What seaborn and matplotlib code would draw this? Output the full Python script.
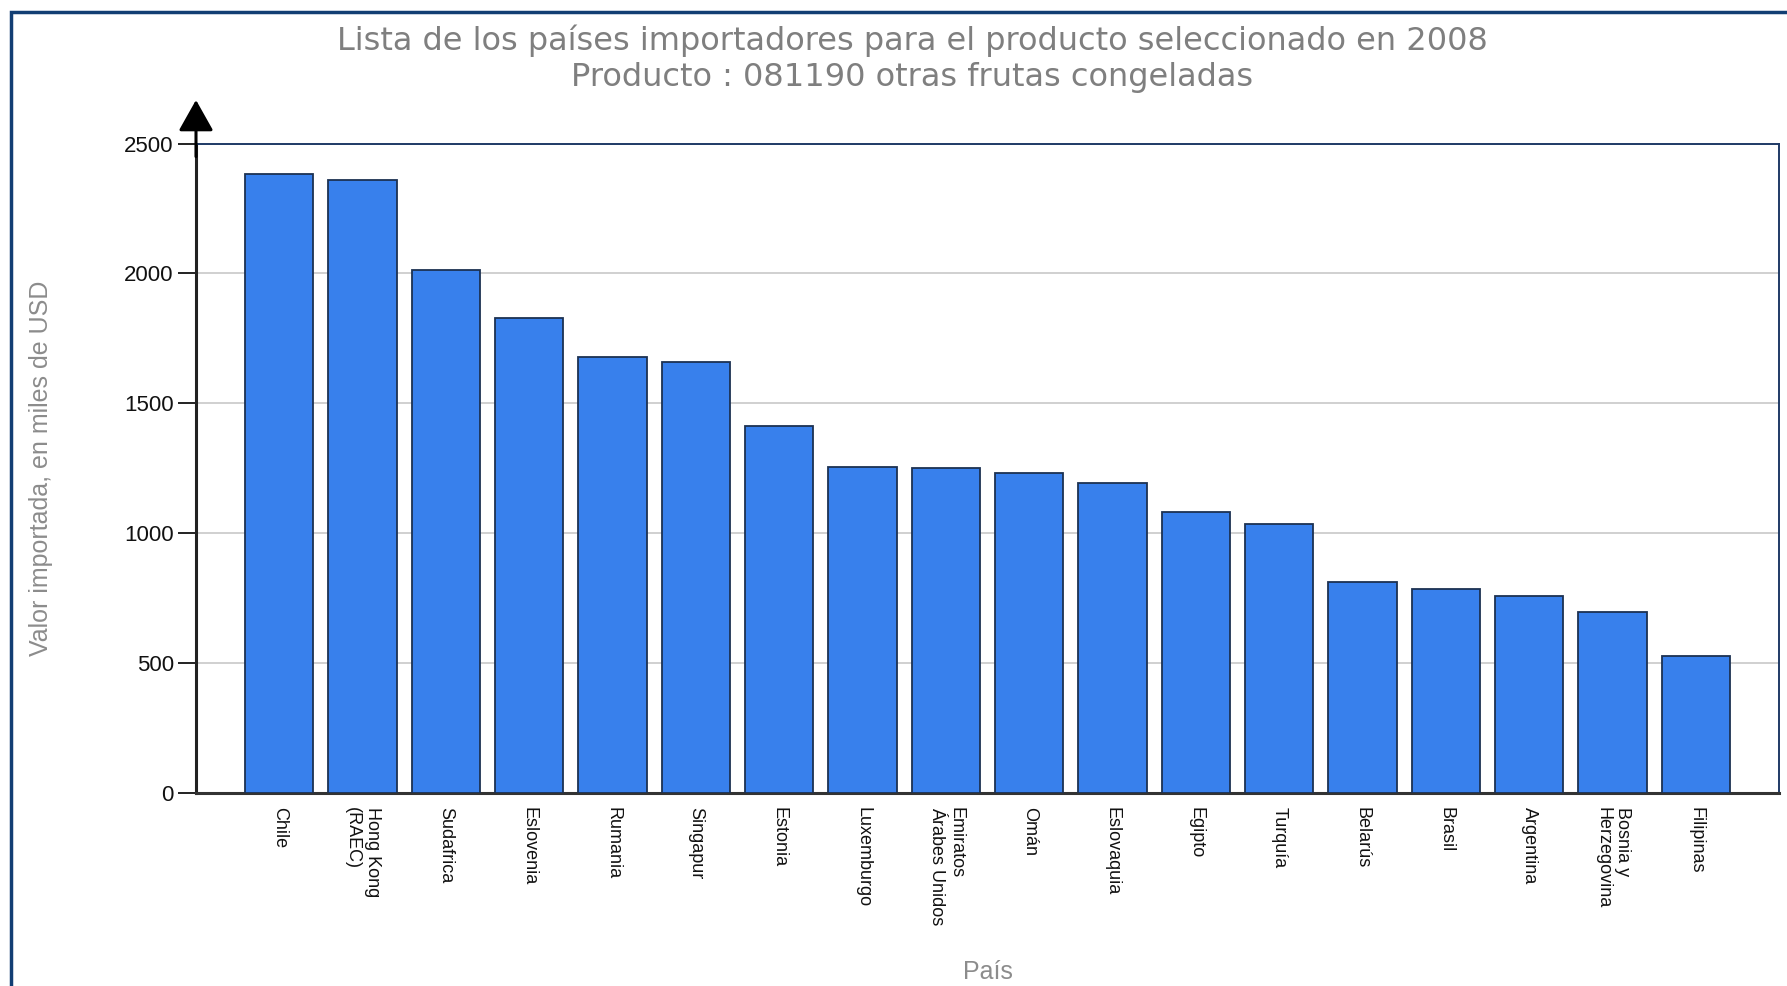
import matplotlib
matplotlib.use("Agg")
import matplotlib.pyplot as plt
import seaborn as sns
import pandas as pd
from matplotlib.patches import Rectangle

countries = ["Chile", "Hong Kong\n(RAEC)", "Sudafrica", "Eslovenia", "Rumania", "Singapur",
             "Estonia", "Luxemburgo", "Emiratos\nÁrabes Unidos", "Omán", "Eslovaquia", "Egipto",
             "Turquía", "Belarús", "Brasil", "Argentina", "Bosnia y\nHerzegovina", "Filipinas"]
values = [2384, 2359, 2014, 1830, 1677, 1659, 1414, 1255, 1250, 1233, 1194, 1080,
          1036, 811, 785, 760, 698, 527]
yticks = [0, 500, 1000, 1500, 2000, 2500]

title = "Lista de los países importadores para el producto seleccionado en 2008\nProducto : 081190 otras frutas congeladas"
ylabel = "Valor importada, en miles de USD"
xlabel = "País"

sns.set_theme(style="white")
plt.rcParams['font.family'] = ['Liberation Sans', 'DejaVu Sans']

W, H = 1787, 986
fig = plt.figure(figsize=(W / 100, H / 100), dpi=100)
ax = fig.add_axes([196 / W, 1 - 793 / H, (1779 - 196) / W, (793 - 143.6) / H])

df = pd.DataFrame({"country": countries, "value": values})
sns.barplot(data=df, x="country", y="value", ax=ax, color="#3880EC", saturation=1,
            width=0.82, edgecolor="#1C3152", linewidth=1.3, zorder=3)

ax.set_ylim(0, 2500)
ax.set_xlim(-1.0, len(countries))
ax.set_yticks(yticks)
ax.set_yticklabels([str(t) for t in yticks], fontsize=16, color="#111111")
ax.yaxis.grid(True, color="#C8C8C8", linewidth=1.2, zorder=0)
ax.xaxis.grid(False)
ax.tick_params(axis="y", left=True, length=13, width=1.3, color="#111111", direction="out", pad=3)
ax.tick_params(axis="x", bottom=False, pad=4)
plt.setp(ax.get_xticklabels(), rotation=270, fontsize=13, color="#111111",
         ha="center", va="top", multialignment="left", rotation_mode="default")

ax.spines["left"].set_color("#222222")
ax.spines["left"].set_linewidth(2.2)
ax.spines["bottom"].set_color("#333333")
ax.spines["bottom"].set_linewidth(2.2)
ax.spines["top"].set_color("#1F3A66")
ax.spines["top"].set_linewidth(1.4)
ax.spines["right"].set_color("#1F3A66")
ax.spines["right"].set_linewidth(1.4)

ax.set_xlabel(xlabel, fontsize=18, color="#8C8C8C", labelpad=0, va="center")
ax.xaxis.set_label_coords(0.5, -(972 - 793) / (793 - 143.6))
ax.set_ylabel(ylabel, fontsize=18, color="#8C8C8C", va="center")
ax.yaxis.set_label_coords(-(196 - 41) / (1779 - 196), 0.5)

# y-axis arrow
ax.annotate("", xy=(0, 1 + (143.6 - 100) / (793 - 143.6)), xytext=(0, 0.98),
            xycoords="axes fraction",
            arrowprops=dict(arrowstyle="-|>,head_width=0.9,head_length=1.6",
                            color="black", lw=2.2, shrinkA=0, shrinkB=0))

fig.text(912 / W, 1 - 58.5 / H, title, ha="center", va="center", fontsize=23,
         color="#7F7F7F", family=["DejaVu Sans"], linespacing=1.22)

# outer frame
fig.patches.append(Rectangle((11 / W, -0.05), 1.2, 1 - 12 / H + 0.05, transform=fig.transFigure,
                             fill=False, edgecolor="#123E73", linewidth=2.5))

fig.savefig("out.png", dpi=100, facecolor="white")
